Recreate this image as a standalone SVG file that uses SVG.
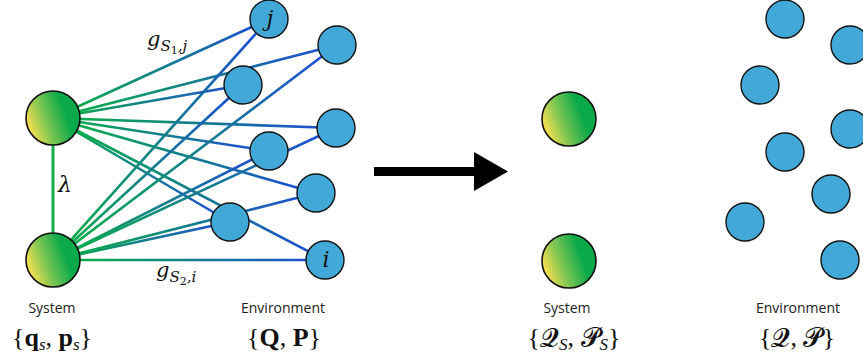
<svg xmlns="http://www.w3.org/2000/svg" width="863" height="360" viewBox="0 0 863 360">
<style>
.env{fill:#42a8d7;stroke:#111;stroke-width:1.4}
.sys{fill:url(#sysg);stroke:#111;stroke-width:1.6}
.edge{fill:none;stroke-width:2.6}
.lab{font-family:"Open Sans",Lato,"Liberation Sans",sans-serif;font-size:14px;fill:#222;text-anchor:middle}
.math{font-family:"DejaVu Serif","Liberation Serif",serif;fill:#111}
.set{font-family:"Liberation Serif","DejaVu Serif",serif;font-size:26px;fill:#111;text-anchor:middle}
</style>
<defs>
<linearGradient id="sysg" x1="0.05" y1="0.7" x2="0.75" y2="0.45">
<stop offset="0" stop-color="#fbe04f"/><stop offset="0.45" stop-color="#7fc652"/><stop offset="1" stop-color="#0aa94a"/>
</linearGradient>
<linearGradient id="a1" gradientUnits="userSpaceOnUse" x1="53" y1="118" x2="269" y2="19"><stop offset="0.1" stop-color="#0aab4c"/><stop offset="0.95" stop-color="#1d4fd2"/></linearGradient>
<linearGradient id="a2" gradientUnits="userSpaceOnUse" x1="53" y1="118" x2="337" y2="45"><stop offset="0.1" stop-color="#0aab4c"/><stop offset="0.95" stop-color="#1d4fd2"/></linearGradient>
<linearGradient id="a3" gradientUnits="userSpaceOnUse" x1="53" y1="118" x2="243" y2="85"><stop offset="0.1" stop-color="#0aab4c"/><stop offset="0.95" stop-color="#1d4fd2"/></linearGradient>
<linearGradient id="a4" gradientUnits="userSpaceOnUse" x1="53" y1="118" x2="336" y2="128"><stop offset="0.1" stop-color="#0aab4c"/><stop offset="0.95" stop-color="#1d4fd2"/></linearGradient>
<linearGradient id="a5" gradientUnits="userSpaceOnUse" x1="53" y1="118" x2="269" y2="151"><stop offset="0.1" stop-color="#0aab4c"/><stop offset="0.95" stop-color="#1d4fd2"/></linearGradient>
<linearGradient id="a6" gradientUnits="userSpaceOnUse" x1="53" y1="118" x2="316" y2="193"><stop offset="0.1" stop-color="#0aab4c"/><stop offset="0.95" stop-color="#1d4fd2"/></linearGradient>
<linearGradient id="a7" gradientUnits="userSpaceOnUse" x1="53" y1="118" x2="230" y2="222"><stop offset="0.1" stop-color="#0aab4c"/><stop offset="0.95" stop-color="#1d4fd2"/></linearGradient>
<linearGradient id="a8" gradientUnits="userSpaceOnUse" x1="53" y1="118" x2="325" y2="260"><stop offset="0.1" stop-color="#0aab4c"/><stop offset="0.95" stop-color="#1d4fd2"/></linearGradient>
<linearGradient id="b1" gradientUnits="userSpaceOnUse" x1="53" y1="260" x2="269" y2="19"><stop offset="0.1" stop-color="#0aab4c"/><stop offset="0.95" stop-color="#1d4fd2"/></linearGradient>
<linearGradient id="b2" gradientUnits="userSpaceOnUse" x1="53" y1="260" x2="337" y2="45"><stop offset="0.1" stop-color="#0aab4c"/><stop offset="0.95" stop-color="#1d4fd2"/></linearGradient>
<linearGradient id="b3" gradientUnits="userSpaceOnUse" x1="53" y1="260" x2="243" y2="85"><stop offset="0.1" stop-color="#0aab4c"/><stop offset="0.95" stop-color="#1d4fd2"/></linearGradient>
<linearGradient id="b4" gradientUnits="userSpaceOnUse" x1="53" y1="260" x2="336" y2="128"><stop offset="0.1" stop-color="#0aab4c"/><stop offset="0.95" stop-color="#1d4fd2"/></linearGradient>
<linearGradient id="b5" gradientUnits="userSpaceOnUse" x1="53" y1="260" x2="269" y2="151"><stop offset="0.1" stop-color="#0aab4c"/><stop offset="0.95" stop-color="#1d4fd2"/></linearGradient>
<linearGradient id="b6" gradientUnits="userSpaceOnUse" x1="53" y1="260" x2="316" y2="193"><stop offset="0.1" stop-color="#0aab4c"/><stop offset="0.95" stop-color="#1d4fd2"/></linearGradient>
<linearGradient id="b7" gradientUnits="userSpaceOnUse" x1="53" y1="260" x2="230" y2="222"><stop offset="0.1" stop-color="#0aab4c"/><stop offset="0.95" stop-color="#1d4fd2"/></linearGradient>
<linearGradient id="b8" gradientUnits="userSpaceOnUse" x1="53" y1="260" x2="325" y2="260"><stop offset="0.1" stop-color="#0aab4c"/><stop offset="0.95" stop-color="#1d4fd2"/></linearGradient>
</defs>

<g id="connectors">
<line x1="53" y1="145" x2="53" y2="233" stroke="#17ad4c" stroke-width="3"/>
<line class="edge" stroke="url(#a1)" x1="53" y1="118" x2="269" y2="19"/>
<line class="edge" stroke="url(#a2)" x1="53" y1="118" x2="337" y2="45"/>
<line class="edge" stroke="url(#a3)" x1="53" y1="118" x2="243" y2="85"/>
<line class="edge" stroke="url(#a4)" x1="53" y1="118" x2="336" y2="128"/>
<line class="edge" stroke="url(#a5)" x1="53" y1="118" x2="269" y2="151"/>
<line class="edge" stroke="url(#a6)" x1="53" y1="118" x2="316" y2="193"/>
<line class="edge" stroke="url(#a7)" x1="53" y1="118" x2="230" y2="222"/>
<line class="edge" stroke="url(#a8)" x1="53" y1="118" x2="325" y2="260"/>
<line class="edge" stroke="url(#b1)" x1="53" y1="260" x2="269" y2="19"/>
<line class="edge" stroke="url(#b2)" x1="53" y1="260" x2="337" y2="45"/>
<line class="edge" stroke="url(#b3)" x1="53" y1="260" x2="243" y2="85"/>
<line class="edge" stroke="url(#b4)" x1="53" y1="260" x2="336" y2="128"/>
<line class="edge" stroke="url(#b5)" x1="53" y1="260" x2="269" y2="151"/>
<line class="edge" stroke="url(#b6)" x1="53" y1="260" x2="316" y2="193"/>
<line class="edge" stroke="url(#b7)" x1="53" y1="260" x2="230" y2="222"/>
<line class="edge" stroke="url(#b8)" x1="53" y1="260" x2="325" y2="260"/>
</g>

<g id="edge-labels">
<text class="math" x="147" y="46" font-size="21" font-style="italic">g<tspan font-size="15" dy="5">S</tspan><tspan font-size="11" dy="3" font-style="normal">1</tspan><tspan font-size="15" dy="-3">,j</tspan></text>
<text class="math" x="156" y="277" font-size="21" font-style="italic">g<tspan font-size="15" dy="5">S</tspan><tspan font-size="11" dy="3" font-style="normal">2</tspan><tspan font-size="15" dy="-3">,i</tspan></text>
<text class="math" x="58" y="192" font-size="22" font-style="italic">λ</text>
</g>

<g id="sys1"><circle class="sys" cx="53" cy="118" r="27"/></g>
<g id="sys2"><circle class="sys" cx="53" cy="260" r="27"/></g>

<g id="env-j"><circle class="env" cx="269" cy="19" r="19"/><text class="math" x="270" y="26" font-size="22" font-style="italic" text-anchor="middle">j</text></g>
<g id="env2"><circle class="env" cx="337" cy="45" r="19"/></g>
<g id="env3"><circle class="env" cx="243" cy="85" r="19"/></g>
<g id="env4"><circle class="env" cx="336" cy="128" r="19"/></g>
<g id="env5"><circle class="env" cx="269" cy="151" r="19"/></g>
<g id="env6"><circle class="env" cx="316" cy="193" r="19"/></g>
<g id="env7"><circle class="env" cx="230" cy="222" r="19"/></g>
<g id="env-i"><circle class="env" cx="325" cy="260" r="19"/><text class="math" x="326" y="267" font-size="22" font-style="italic" text-anchor="middle">i</text></g>

<g id="labels-left">
<text class="lab" x="52" y="313">System</text>
<text class="lab" x="283" y="313">Environment</text>
<text class="set" x="52" y="346">{<tspan font-weight="bold">q</tspan><tspan font-style="italic" font-size="17" dy="4">s</tspan><tspan dy="-4">, </tspan><tspan font-weight="bold">p</tspan><tspan font-style="italic" font-size="17" dy="4">s</tspan><tspan dy="-4">}</tspan></text>
<text class="set" x="284" y="346">{<tspan font-weight="bold">Q</tspan>, <tspan font-weight="bold">P</tspan>}</text>
</g>

<g id="arrow">
<rect x="374" y="167" width="102" height="9" fill="#000"/>
<polygon points="474,152 508,171.5 474,191" fill="#000"/>
</g>

<g id="sys1-r"><circle class="sys" cx="569" cy="119" r="27"/></g>
<g id="sys2-r"><circle class="sys" cx="569" cy="261" r="27"/></g>

<g id="envr1"><circle class="env" cx="785" cy="19" r="19"/></g>
<g id="envr2"><circle class="env" cx="850" cy="45" r="19"/></g>
<g id="envr3"><circle class="env" cx="760" cy="85" r="19"/></g>
<g id="envr4"><circle class="env" cx="850" cy="129" r="19"/></g>
<g id="envr5"><circle class="env" cx="785" cy="152" r="19"/></g>
<g id="envr6"><circle class="env" cx="831" cy="194" r="19"/></g>
<g id="envr7"><circle class="env" cx="745" cy="222" r="19"/></g>
<g id="envr8"><circle class="env" cx="840" cy="260" r="19"/></g>

<g id="labels-right">
<text class="lab" x="567" y="313">System</text>
<text class="lab" x="798" y="313">Environment</text>
<text class="set" x="574" y="346">{𝓠<tspan font-style="italic" font-size="17" dy="4">S</tspan><tspan dy="-4">, 𝓟</tspan><tspan font-style="italic" font-size="17" dy="4">S</tspan><tspan dy="-4">}</tspan></text>
<text class="set" x="797" y="346">{𝓠, 𝓟}</text>
</g>
</svg>
